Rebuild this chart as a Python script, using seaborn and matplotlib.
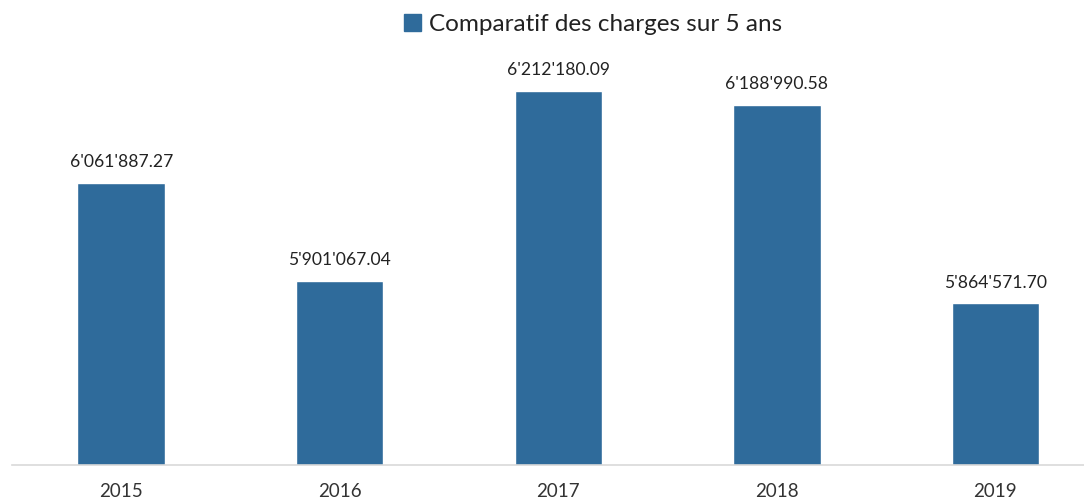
import matplotlib
matplotlib.use("Agg")
import matplotlib.pyplot as plt
import seaborn as sns
import pandas as pd
from matplotlib.patches import Patch

years = ["2015", "2016", "2017", "2018", "2019"]
charges = [6061887.27, 5901067.04, 6212180.09, 6188990.58, 5864571.70]
series_name = "Comparatif des charges sur 5 ans"

sns.set_theme(style="white")
plt.rcParams["font.family"] = ["Lato", "DejaVu Sans"]

df = pd.DataFrame({"Année": years, "Charges": charges})
color = "#2f6b9b"

fig = plt.figure(figsize=(10.84, 5.04), dpi=100)
ax = fig.add_axes([0.011, 0.0774, 1.008, 0.849])
sns.barplot(data=df, x="Année", y="Charges", color=color, width=0.4,
            saturation=1, ax=ax)
ax.set_ylim(5600000, 6300000)
ax.set_xlim(-0.5, 4.5)
for s in ["top", "right", "left"]:
    ax.spines[s].set_visible(False)
ax.spines["bottom"].set_color("#d9d9d9")
ax.spines["bottom"].set_linewidth(1.2)
ax.set_yticks([])
ax.set_xlabel("")
ax.set_ylabel("")
ax.tick_params(axis="x", length=0, pad=13, labelsize=13.5, labelcolor="#333333")

labels = [f"{v:,.2f}".replace(",", "'") for v in charges]
ax.bar_label(ax.containers[0], labels=labels, padding=9, fontsize=12.6, color="#222222")

handle = Patch(facecolor=color, edgecolor=color)
fig.legend([handle], [series_name], loc="center", bbox_to_anchor=(0.547, 0.951),
           frameon=False, fontsize=17.5, handlelength=0.7, handleheight=0.7,
           handletextpad=0.35, labelcolor="#222222")

fig.savefig("out.png", dpi=100)
